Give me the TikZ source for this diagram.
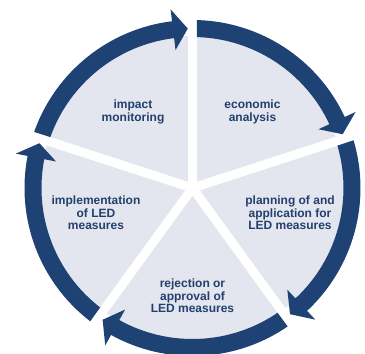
\documentclass[tikz,border=0pt]{standalone}
\usepackage{fontspec}
\setmainfont{Liberation Sans}
\definecolor{navy}{HTML}{1E4274}
\definecolor{sectorgray}{HTML}{E3E6EE}
\definecolor{txtblue}{HTML}{22406E}

\begin{document}
\begin{tikzpicture}[x=1pt,y=1pt,
  lbl/.style={font=\fontsize{12}{12.5}\selectfont\bfseries,text=txtblue,align=center,inner sep=0pt},
  arr/.style={fill=navy},
  gap/.style={draw=white,line width=9pt},
]
\useasboundingbox (-192.5,-166) rectangle (172.5,188);

% ---------------- disk and gaps ----------------
\coordinate (O) at (0,0);
\fill[sectorgray] (O) circle[radius=152pt];
\foreach \g in {90,18,-54,-126,162}
  \draw[gap] (O) -- (\g:176pt);

% ---------------- arrows round the rim ----------------
\foreach \g in {90,18,-54,-126,162}
  \fill[arr] ({\g-1.5}:168pt) arc[start angle=\g-1.5, end angle=\g-65, radius=168pt]
    -- ({\g-65}:180pt) -- ({\g-70.3}:159.5pt) -- ({\g-65}:139pt) -- ({\g-65}:151pt)
    arc[start angle=\g-65, end angle=\g-1.7, radius=151pt] -- cycle;

% ---------------- labels ----------------
\coordinate (p1) at (-59.5,76);
\coordinate (p2) at (60,76);
\coordinate (p3) at (97.5,-25);
\coordinate (p4) at (0,-108);
\coordinate (p5) at (-96.5,-25);
\node[lbl] (impact) at (p1) {impact\\monitoring};
\node[lbl] (econ) at (p2) {economic\\analysis};
\node[lbl] (plan) at (p3) {planning of and\\application for\\LED measures};
\node[lbl] (reject) at (p4) {rejection or\\approval of\\LED measures};
\node[lbl] (impl) at (p5) {implementation\\of LED\\measures};
\end{tikzpicture}
\end{document}
